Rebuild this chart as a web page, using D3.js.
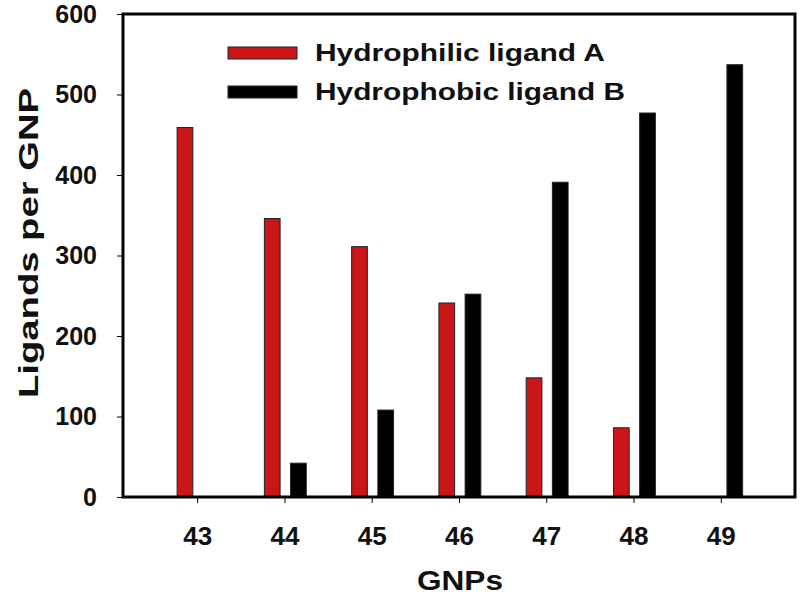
<!DOCTYPE html>
<html>
<head>
<meta charset="utf-8">
<script src="https://cdn.jsdelivr.net/npm/d3@7"></script>
<style>
  body { margin: 0; background: #fff; }
  text { font-family: "Liberation Sans", Arial, sans-serif; font-weight: bold; }
</style>
</head>
<body>
<svg id="chart" width="800" height="603"></svg>
<script>
// data
var gnps = [43, 44, 45, 46, 47, 48, 49];
var ligandA = [459, 346, 311, 241, 148, 86, null];
var ligandB = [null, 42, 108, 252, 391, 477, 537];
var yTicks = [0, 100, 200, 300, 400, 500, 600];
var seriesNames = ["Hydrophilic ligand A", "Hydrophobic ligand B"];
var seriesColors = ["#cc1518", "#000000"];

var svg = d3.select("#chart");

// plot box (don't use "top", it clashes with window.top)
var plotL = 123, plotR = 795, plotT = 14, plotB = 497;

var x = d3.scaleLinear().domain([42.15, 49.85]).range([plotL, plotR]);
var y = d3.scaleLinear().domain([0, 600]).range([plotB, plotT]);

// bar offsets in data units relative to the tick
var barW = 0.18;
var offA = -0.23, offB = 0.07;

var g = svg.append("g");

function drawBars(vals, off, color) {
    g.selectAll(null)
        .data(gnps.map(function (d, i) { return {k: d, v: vals[i]}; })
            .filter(function (d) { return d.v != null; }))
        .enter()
        .append("rect")
        .attr("x", function (d) { return x(d.k + off); })
        .attr("width", function (d) { return x(d.k + off + barW) - x(d.k + off); })
        .attr("y", function (d) { return y(d.v); })
        .attr("height", function (d) { return y(0) - y(d.v); })
        .attr("fill", color)
        .attr("stroke", "#222")
        .attr("stroke-width", 1);
}
drawBars(ligandA, offA, seriesColors[0]);
drawBars(ligandB, offB, seriesColors[1]);

// frame
svg.append("rect")
    .attr("x", plotL).attr("y", plotT)
    .attr("width", plotR - plotL).attr("height", plotB - plotT)
    .attr("fill", "none").attr("stroke", "#000").attr("stroke-width", 3);

// y axis
var yAxis = svg.append("g")
    .attr("transform", "translate(" + plotL + ",0)")
    .call(d3.axisLeft(y).tickValues(yTicks).tickSize(6).tickPadding(20));
yAxis.select(".domain").remove();
yAxis.selectAll("text").attr("font-size", 25).attr("fill", "#111")
    .style("font-family", "Liberation Sans, Arial, sans-serif");

// x axis
var xAxis = svg.append("g")
    .attr("transform", "translate(0," + plotB + ")")
    .call(d3.axisBottom(x).tickValues(gnps).tickSize(6).tickPadding(24).tickFormat(d3.format("d")));
xAxis.select(".domain").remove();
xAxis.selectAll("text").attr("font-size", 26).attr("fill", "#111")
    .style("font-family", "Liberation Sans, Arial, sans-serif");

// axis titles (the original lettering is stretched wide)
svg.append("text")
    .attr("x", 460).attr("y", 590)
    .attr("text-anchor", "middle")
    .attr("font-size", 28).attr("fill", "#111")
    .attr("textLength", 86).attr("lengthAdjust", "spacingAndGlyphs")
    .text("GNPs");

svg.append("text")
    .attr("transform", "translate(38,243) rotate(-90)")
    .attr("text-anchor", "middle")
    .attr("font-size", 28).attr("fill", "#111")
    .attr("textLength", 310).attr("lengthAdjust", "spacingAndGlyphs")
    .text("Ligands per GNP");

// legend
var legendW = [290, 310];
var legend = svg.append("g");
seriesNames.forEach(function (name, i) {
    var ly = 53 + i * 39;
    legend.append("rect")
        .attr("x", 228).attr("y", ly - 6)
        .attr("width", 69).attr("height", 12)
        .attr("fill", seriesColors[i])
        .attr("stroke", "#222").attr("stroke-width", 1);
    legend.append("text")
        .attr("x", 315).attr("y", ly + 8)
        .attr("font-size", 23).attr("fill", "#111")
        .attr("textLength", legendW[i]).attr("lengthAdjust", "spacingAndGlyphs")
        .text(name);
});
</script>
</body>
</html>
